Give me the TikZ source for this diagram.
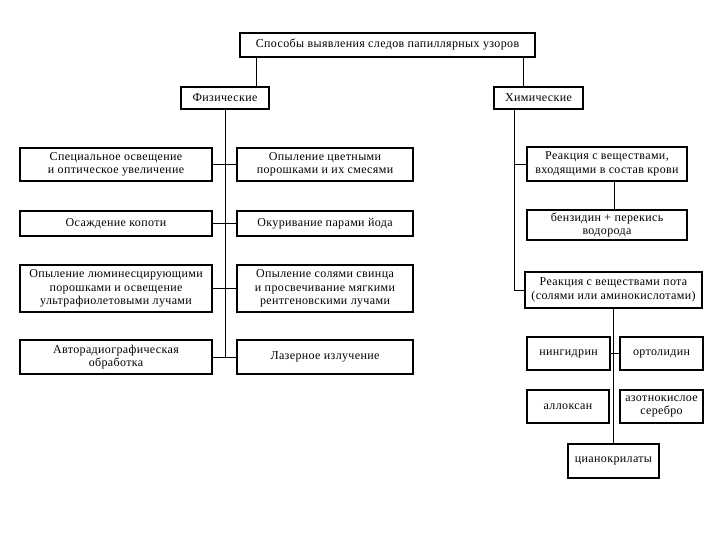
\documentclass[tikz,border=0pt]{standalone}
\usepackage{fontspec}
\setmainfont{Liberation Serif}[LetterSpace=3]
\begin{document}
\begin{tikzpicture}[x=1pt,y=-1pt,
  box/.style={draw,line width=1.1pt,inner sep=1pt,align=center,font=\fontsize{12}{13.5}\selectfont},
  conn/.style={line width=0.9pt},
  thin/.style={line width=0.5pt}]
\useasboundingbox (0,0) rectangle (720,540);
\node[box,minimum width=295,minimum height=24] (top) at (387.5,45) {Способы выявления следов папиллярных узоров};
\node[box,minimum width=88,minimum height=22] (phys) at (225,98) {Физические};
\node[box,minimum width=89,minimum height=22] (chem) at (538.5,98) {Химические};
% physical
\node[box,minimum width=192,minimum height=33] (l1) at (116,164.5) {Специальное освещение\\и оптическое увеличение};
\node[box,minimum width=176,minimum height=33] (r1) at (325,164.5) {Опыление цветными\\порошками и их смесями};
\node[box,minimum width=192,minimum height=25] (l2) at (116,223.5) {Осаждение копоти};
\node[box,minimum width=176,minimum height=25] (r2) at (325,223.5) {Окуривание парами йода};
\node[box,minimum width=192,minimum height=47] (l3) at (116,288.5) {Опыление люминесцирующими\\порошками и освещение\\ультрафиолетовыми лучами};
\node[box,minimum width=176,minimum height=47] (r3) at (325,288.5) {Опыление солями свинца\\и просвечивание мягкими\\рентгеновскими лучами};
\node[box,minimum width=192,minimum height=34] (l4) at (116,357) {Авторадиографическая\\обработка};
\node[box,minimum width=176,minimum height=34] (r4) at (325,357) {Лазерное излучение};
% chemical
\node[box,minimum width=160,minimum height=34] (blood) at (607,164) {Реакция с веществами,\\входящими в состав крови};
\node[box,minimum width=160,minimum height=30] (benz) at (607,225) {бензидин + перекись\\водорода};
\node[box,minimum width=177,minimum height=36] (sweat) at (613.5,290) {Реакция с веществами пота\\(солями или аминокислотами)};
\node[box,minimum width=83,minimum height=33] (nin) at (568.5,353.5) {нингидрин};
\node[box,minimum width=83,minimum height=33] (orto) at (661.5,353.5) {ортолидин};
\node[box,minimum width=82,minimum height=33] (allox) at (568,406.5) {аллоксан};
\node[box,minimum width=83,minimum height=33] (silver) at (661.5,406.5) {азотнокислое\\серебро};
\node[box,minimum width=91,minimum height=34] (cyano) at (613.5,461) {цианокрилаты};
% connectors top
\draw[conn] ([xshift=31]phys.north) -- ([xshift=31]phys.north |- top.south);
\draw[conn] ([xshift=-15.5]chem.north) -- ([xshift=-15.5]chem.north |- top.south);
% physical trunk
\draw[conn] (phys.south) -- (phys.south |- l4.east);
\draw[conn] (l1.east) -- (r1.west);
\draw[conn] (l2.east) -- (r2.west);
\draw[thin] (l3.east) -- (r3.west);
\draw[conn] (l4.east) -- (r4.west);
% chemical trunk
\draw[conn] ([xshift=-24.5]chem.south) |- (sweat.west);
\draw[conn] ([xshift=-24.5]chem.south |- blood.west) -- (blood.west);
\draw[conn] ([xshift=7]blood.south) -- ([xshift=7]benz.north);
\draw[conn] (sweat.south) -- (cyano.north);
\draw[thin] (nin.east) -- (orto.west);
\end{tikzpicture}
\end{document}
